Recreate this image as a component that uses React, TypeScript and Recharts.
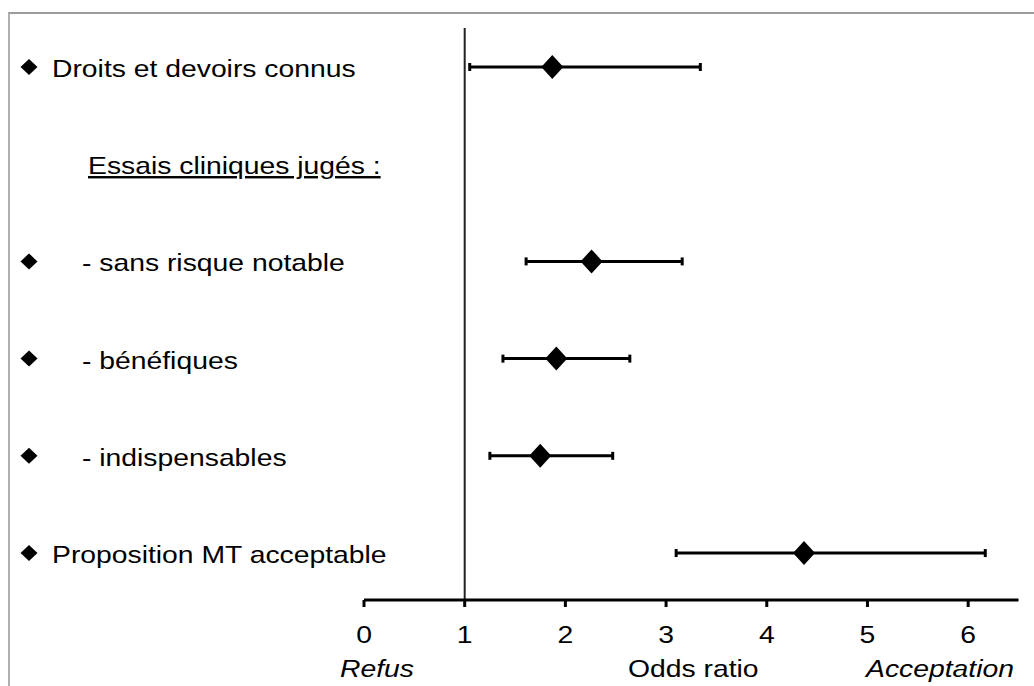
import { ScatterChart, Scatter, XAxis, YAxis, ErrorBar, ReferenceLine } from 'recharts'

// rows from top to bottom (row 1 is the group header, no estimate)
const rowLabels = [
    'Droits et devoirs connus',
    'Essais cliniques jugés :',
    '- sans risque notable',
    '- bénéfiques',
    '- indispensables',
    'Proposition MT acceptable',
]
const rowIndex = [0, 1, 2, 3, 4, 5]
const oddsRatios = [1.87, null, 2.26, 1.91, 1.75, 4.37]
const ciLower = [1.05, null, 1.61, 1.38, 1.25, 3.1]
const ciUpper = [3.34, null, 3.16, 2.64, 2.47, 6.17]
const xTicks = [0, 1, 2, 3, 4, 5, 6]

const points = rowIndex
    .filter(i => oddsRatios[i] != null)
    .map(i => {
        const or = oddsRatios[i] as number
        return {
            row: i,
            or,
            err: [or - (ciLower[i] as number), (ciUpper[i] as number) - or],
        }
    })

const FONT = '"Liberation Sans", Arial, Helvetica, sans-serif'
const STRETCH = 1.18 // the source text is a bit wide

const Diamond = (props: any) => {
    const { cx, cy } = props
    if (cx == null || cy == null) return null
    return <polygon points={`${cx},${cy - 12} ${cx + 11},${cy} ${cx},${cy + 12} ${cx - 11},${cy}`} fill="#000" />
}

const RowTick = (props: any) => {
    const { y, payload } = props
    const label = rowLabels[payload.value]
    const isHeader = payload.value === 1
    const isSub = label.startsWith('-')
    const textX = isHeader ? 88 : isSub ? 82 : 52
    return (
        <g>
            {!isHeader && (
                <polygon points={`29,${y - 8} 37.5,${y} 29,${y + 8} 20.5,${y}`} fill="#000" />
            )}
            <text
                transform={`translate(${textX},${y + 10}) scale(${STRETCH},1)`}
                x={0}
                y={0}
                fontSize={24}
                fontFamily={FONT}
                fill="#000"
                style={isHeader ? { textDecoration: 'underline' } : undefined}
            >
                {label}
            </text>
        </g>
    )
}

const XTick = (props: any) => {
    const { x, payload } = props
    return (
        <text
            transform={`translate(${x},643) scale(${STRETCH},1)`}
            x={0}
            y={0}
            textAnchor="middle"
            fontSize={24}
            fontFamily={FONT}
            fill="#000"
        >
            {payload.value}
        </text>
    )
}

const AxisCaptions = () => (
    <g fontSize={24} fontFamily={FONT} fill="#000">
        <text transform={`translate(340,677) scale(${STRETCH},1)`} fontStyle="italic">Refus</text>
        <text transform={`translate(628,677) scale(${STRETCH},1)`}>Odds ratio</text>
        <text transform={`translate(1014,677) scale(${STRETCH},1)`} textAnchor="end" fontStyle="italic">Acceptation</text>
    </g>
)

export default function App() {
    return (
        <div style={{ position: 'absolute', left: 0, top: 0, width: 1034, height: 686, background: '#fff' }}>
            {/* frame of the original figure */}
            <div
                style={{
                    position: 'absolute',
                    left: 8,
                    top: 12,
                    width: 1026,
                    height: 674,
                    boxSizing: 'border-box',
                    borderTop: '2px solid #9c9c9c',
                    borderLeft: '2px solid #b0b0b0',
                }}
            />
            <div style={{ position: 'absolute', left: 0, top: 0 }}>
                <ScatterChart width={1034} height={686} margin={{ top: 28, right: 15.5, bottom: 26, left: 0 }}>
                    <XAxis
                        type="number"
                        dataKey="or"
                        domain={[0, 6.5]}
                        ticks={xTicks}
                        interval={0}
                        allowDataOverflow
                        height={60}
                        axisLine={{ stroke: '#000', strokeWidth: 3 }}
                        tickLine={{ stroke: '#000', strokeWidth: 3 }}
                        tickSize={7}
                        tick={<XTick />}
                        label={<AxisCaptions />}
                    />
                    <YAxis
                        type="number"
                        dataKey="row"
                        domain={[-0.401, 5.483]}
                        reversed
                        allowDataOverflow
                        ticks={rowIndex}
                        interval={0}
                        width={364}
                        axisLine={false}
                        tickLine={false}
                        tick={<RowTick />}
                    />
                    <ReferenceLine x={1} stroke="#222" strokeWidth={2} ifOverflow="extendDomain" />
                    <Scatter data={points} shape={<Diamond />} isAnimationActive={false}>
                        <ErrorBar dataKey="err" direction="x" width={4} strokeWidth={3} stroke="#000" isAnimationActive={false} />
                    </Scatter>
                </ScatterChart>
            </div>
        </div>
    )
}
